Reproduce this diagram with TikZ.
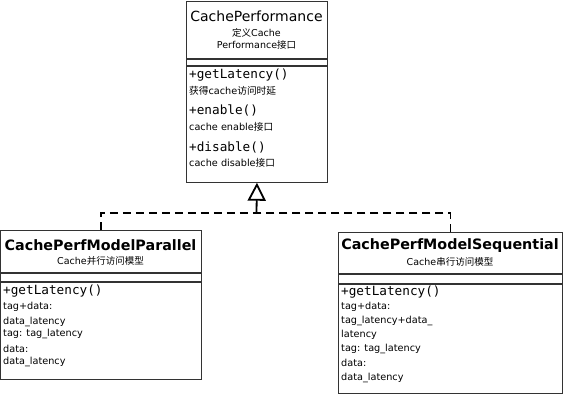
\documentclass[tikz,border=0pt]{standalone}
\usepackage{fontspec}
\setmainfont{DejaVu Sans}
\setmonofont{DejaVu Sans Mono}
\newfontfamily\cjk{Noto Sans CJK SC}
\newcommand\zh[1]{{\cjk #1}}
\usetikzlibrary{positioning,arrows.meta}

\begin{document}
\begin{tikzpicture}[x=1pt, y=-1pt,
  part/.style={draw=black!80, line width=0.9pt, inner sep=0pt, anchor=north west},
  title/.style={font=\fontsize{14}{16}\selectfont},
  bigtitle/.style={font=\bfseries\fontsize{14.3}{16}\selectfont},
  sub/.style={inner sep=0pt, font=\fontsize{9.5}{11}\selectfont},
  op/.style={anchor=west, inner sep=0pt, font=\ttfamily\fontsize{12.7}{14}\selectfont},
  note/.style={anchor=west, inner sep=0pt, font=\fontsize{9.7}{11}\selectfont},
  realize/.style={line width=1.8pt, dash pattern=on 8pt off 5pt}
]
\useasboundingbox (0,0) rectangle (565,394);

% interface CachePerformance
\node[part, minimum width=141, minimum height=57] (perf) at (186,1) {};
\node[part, minimum width=141, minimum height=6] (perfattr) at (perf.south west) {};
\node[part, minimum width=141, minimum height=116] (perfops) at (perfattr.south west) {};
\node[title] (perfname) at (256.5,16) {CachePerformance};
\node[sub] (perfdesc) at (256.5,33) {\zh{定义}Cache};
\node[sub] (perfdesc2) at (256.5,45) {Performance\zh{接口}};
\node[op] (perfget) at (189,75) {+getLatency()};
\node[note] (perfgetd) at (189,91) {\zh{获得}cache\zh{访问时延}};
\node[op] (perfen) at (189,110) {+enable()};
\node[note] (perfend) at (189,127) {cache enable\zh{接口}};
\node[op] (perfdis) at (189,147) {+disable()};
\node[note] (perfdisd) at (189,163) {cache disable\zh{接口}};

% CachePerfModelParallel
\node[part, minimum width=201, minimum height=42] (par) at (0,230) {};
\node[part, minimum width=201, minimum height=8] (parattr) at (par.south west) {};
\node[part, minimum width=201, minimum height=97] (parops) at (parattr.south west) {};
\node[bigtitle] (parname) at (100.5,245) {CachePerfModelParallel};
\node[sub] (pardesc) at (100.5,261) {Cache\zh{并行访问模型}};
\node[op] (parget) at (3,291) {+getLatency()};
\node[note] (parl1) at (3,307) {tag+data:};
\node[note] (parl2) at (3,322) {data\_latency};
\node[note] (parl3) at (3,334) {tag: tag\_latency};
\node[note] (parl4) at (3,349) {data:};
\node[note] (parl5) at (3,362) {data\_latency};

% CachePerfModelSequential
\node[part, minimum width=224, minimum height=41] (seq) at (338,232) {};
\node[part, minimum width=224, minimum height=9] (seqattr) at (seq.south west) {};
\node[part, minimum width=224, minimum height=109] (seqops) at (seqattr.south west) {};
\node[bigtitle] (seqname) at (450,246) {CachePerfModelSequential};
\node[sub] (seqdesc) at (450,262) {Cache\zh{串行访问模型}};
\node[op] (seqget) at (341,292) {+getLatency()};
\node[note] (seql1) at (341,307) {tag+data:};
\node[note] (seql2) at (341,321) {tag\_latency+data\_};
\node[note] (seql3) at (341,335) {latency};
\node[note] (seql4) at (341,349) {tag: tag\_latency};
\node[note] (seql5) at (341,363) {data:};
\node[note] (seql6) at (341,378) {data\_latency};

% realization
\coordinate (join) at (256.5,213);
\draw[realize] (par.north) |- (join);
\draw[realize] (seq.north) |- (join);
\draw[line width=1.8pt, -{Triangle[open, length=18pt, width=18pt, line width=1.8pt]}] (join) -- (perfops.south);
\end{tikzpicture}
\end{document}
